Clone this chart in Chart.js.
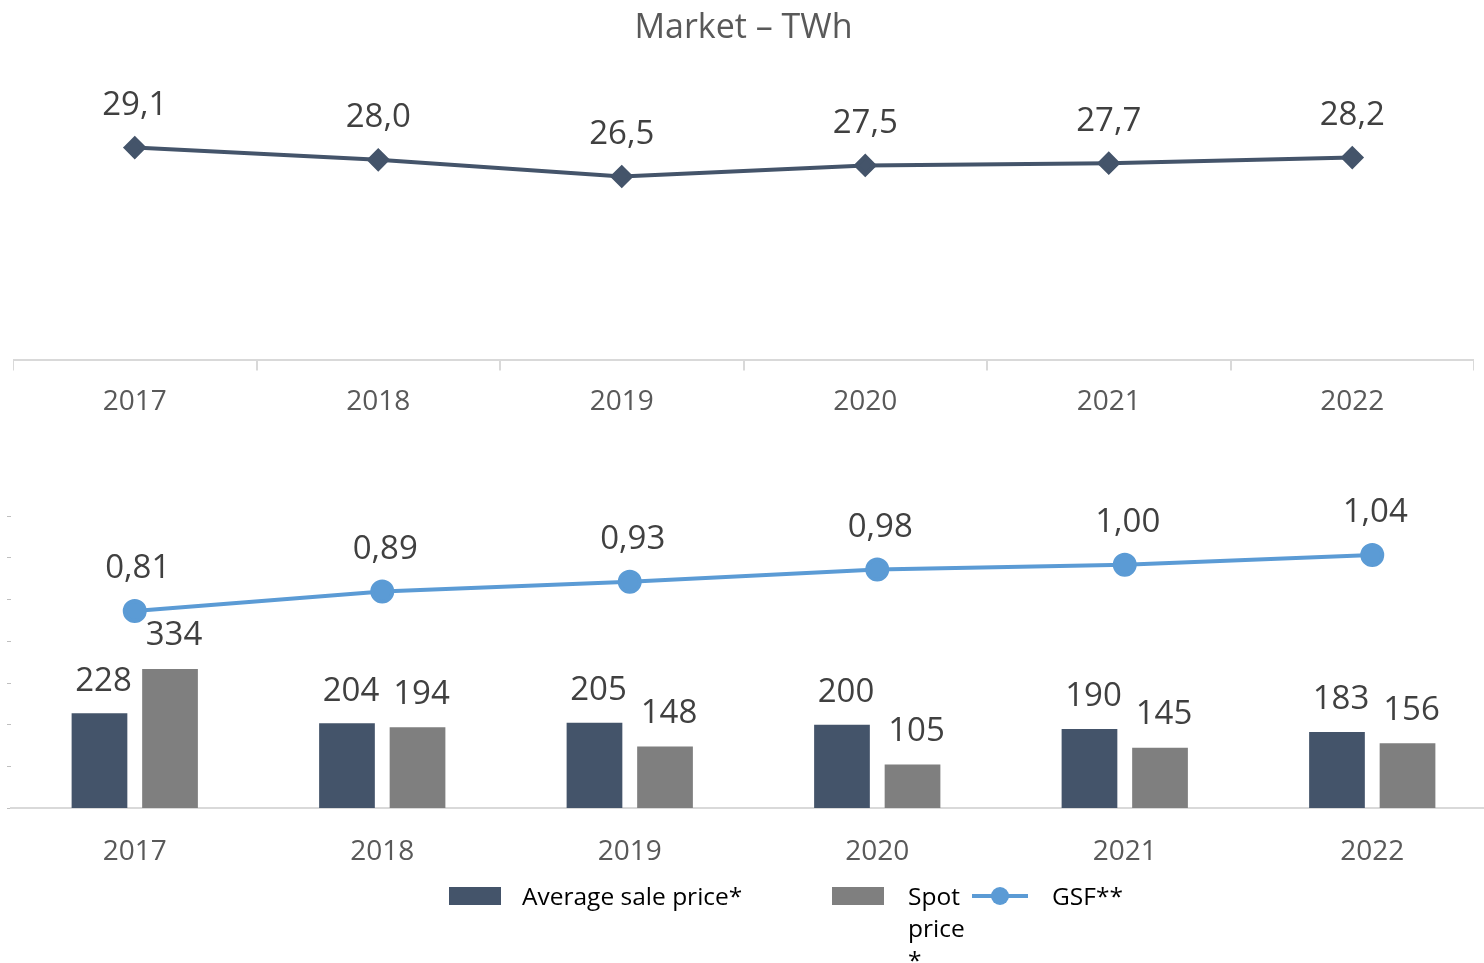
<!DOCTYPE html>
<html>
<head>
<meta charset="utf-8">
<script src="https://cdn.jsdelivr.net/npm/chart.js@4.4.1/dist/chart.umd.min.js"></script>
<style>
  html, body { margin: 0; padding: 0; background: #fff; overflow: hidden; width: 1484px; height: 963px; }
  body { position: relative; font-family: "Open Sans", sans-serif; }
  #top-wrap { position: absolute; left: 13px; top: 0; width: 1461px; height: 434px; }
  #bottom-wrap { position: absolute; left: 0; top: 470px; width: 1496px; height: 418px; }
  .legend { position: absolute; top: 880px; font-size: 24.5px; color: #000; line-height: 32px; }
  .lg-box { position: absolute; width: 52px; height: 18px; }
  .lg-text { position: absolute; }
</style>
</head>
<body>
<div id="top-wrap"><canvas id="marketChart"></canvas></div>
<div id="bottom-wrap"><canvas id="priceChart"></canvas></div>

<div class="legend">
  <div class="lg-box" style="left:449px; top:7px; background:#44546A;"></div>
  <div class="lg-text" style="left:522px; top:0; white-space:nowrap;">Average sale price*</div>
  <div class="lg-box" style="left:832px; top:7px; background:#7F7F7F;"></div>
  <div class="lg-text" style="left:908px; top:0; width:60px;">Spot price *</div>
  <div style="position:absolute; left:972px; top:14px; width:56px; height:4px; background:#5B9BD5;"></div>
  <div style="position:absolute; left:991px; top:7px; width:18px; height:18px; border-radius:50%; background:#5B9BD5;"></div>
  <div class="lg-text" style="left:1052px; top:0; white-space:nowrap;">GSF**</div>
</div>

<script>
const years = ["2017", "2018", "2019", "2020", "2021", "2022"];
const marketTWh = [29.1, 28.0, 26.5, 27.5, 27.7, 28.2];
const avgSalePrice = [228, 204, 205, 200, 190, 183];
const spotPrice = [334, 194, 148, 105, 145, 156];
const gsf = [0.81, 0.89, 0.93, 0.98, 1.00, 1.04];

const NAVY = "#44546A";
const GREY = "#7F7F7F";
const BLUE = "#5B9BD5";
const AXIS = "#d9d9d9";
const TICK_TXT = "#595959";
const LABEL_TXT = "#404040";

function fmt(v, digits) {
  return v.toFixed(digits).replace(".", ",");
}

// no side padding for the first / last tick label
function noSidePadding(scale) {
  scale.paddingLeft = 0;
  scale.paddingRight = 0;
}

// draws the value above every point / bar
const valueLabels = {
  id: "valueLabels",
  afterDatasetsDraw(chart) {
    const ctx = chart.ctx;
    ctx.save();
    ctx.font = "33px 'Open Sans', sans-serif";
    ctx.fillStyle = LABEL_TXT;
    ctx.textAlign = "center";
    ctx.textBaseline = "middle";
    chart.data.datasets.forEach((ds, i) => {
      const meta = chart.getDatasetMeta(i);
      meta.data.forEach((el, j) => {
        ctx.fillText(fmt(ds.data[j], ds.labelDigits), el.x + ds.labelDx, el.y - ds.labelUp);
      });
    });
    ctx.restore();
  },
};

Chart.defaults.font.family = "'Open Sans', sans-serif";
Chart.defaults.animation = false;

// ============== Market - TWh ==============
new Chart(document.getElementById("marketChart"), {
  type: "line",
  data: {
    labels: years,
    datasets: [
      {
        label: "Market",
        data: marketTWh,
        borderColor: NAVY,
        backgroundColor: NAVY,
        borderWidth: 4,
        pointStyle: "rectRot",
        pointRadius: 9,
        tension: 0,
        labelDigits: 1,
        labelDx: 0,
        labelUp: 42,
      },
    ],
  },
  options: {
    responsive: true,
    maintainAspectRatio: false,
    layout: { padding: 0, autoPadding: false },
    plugins: {
      legend: { display: false },
      tooltip: { enabled: false },
      title: {
        display: true,
        text: "Market – TWh",
        color: TICK_TXT,
        font: { size: 34, weight: "normal" },
        padding: { top: 8, bottom: 33 },
      },
    },
    scales: {
      x: {
        offset: true,
        afterFit: noSidePadding,
        grid: { offset: true, drawOnChartArea: false, drawTicks: true, tickLength: 10, color: AXIS, lineWidth: 2 },
        border: { color: AXIS, width: 2 },
        ticks: { padding: 15, color: TICK_TXT, font: { size: 28 } },
      },
      y: { display: false, min: 10, max: 35 },
    },
  },
  plugins: [valueLabels],
});

// ============== Prices + GSF ==============
new Chart(document.getElementById("priceChart"), {
  type: "bar",
  data: {
    labels: years,
    datasets: [
      {
        type: "line",
        label: "GSF**",
        data: gsf,
        yAxisID: "y1",
        borderColor: BLUE,
        backgroundColor: BLUE,
        borderWidth: 4,
        pointRadius: 10,
        tension: 0,
        order: 0,
        labelDigits: 2,
        labelDx: 3,
        labelUp: 42,
      },
      {
        label: "Average sale price*",
        data: avgSalePrice,
        backgroundColor: NAVY,
        yAxisID: "y",
        order: 1,
        categoryPercentage: 0.57,
        barPercentage: 0.79,
        labelDigits: 0,
        labelDx: 4,
        labelUp: 32,
      },
      {
        label: "Spot price *",
        data: spotPrice,
        backgroundColor: GREY,
        yAxisID: "y",
        order: 1,
        categoryPercentage: 0.57,
        barPercentage: 0.79,
        labelDigits: 0,
        labelDx: 4,
        labelUp: 33,
      },
    ],
  },
  options: {
    responsive: true,
    maintainAspectRatio: false,
    layout: { padding: { top: 46, left: 7 }, autoPadding: false },
    plugins: {
      legend: { display: false },
      tooltip: { enabled: false },
    },
    scales: {
      x: {
        afterFit: noSidePadding,
        grid: { display: false },
        border: { display: true, color: AXIS, width: 2 },
        ticks: { padding: 19, color: TICK_TXT, font: { size: 28 } },
      },
      y: {
        min: 0,
        max: 700,
        ticks: { display: false, stepSize: 100 },
        grid: { drawOnChartArea: false, drawTicks: true, tickLength: 4, color: "#bfbfbf" },
        border: { display: false },
      },
      y1: { display: false, min: 0, max: 1.2 },
    },
  },
  plugins: [valueLabels],
});
</script>
</body>
</html>
